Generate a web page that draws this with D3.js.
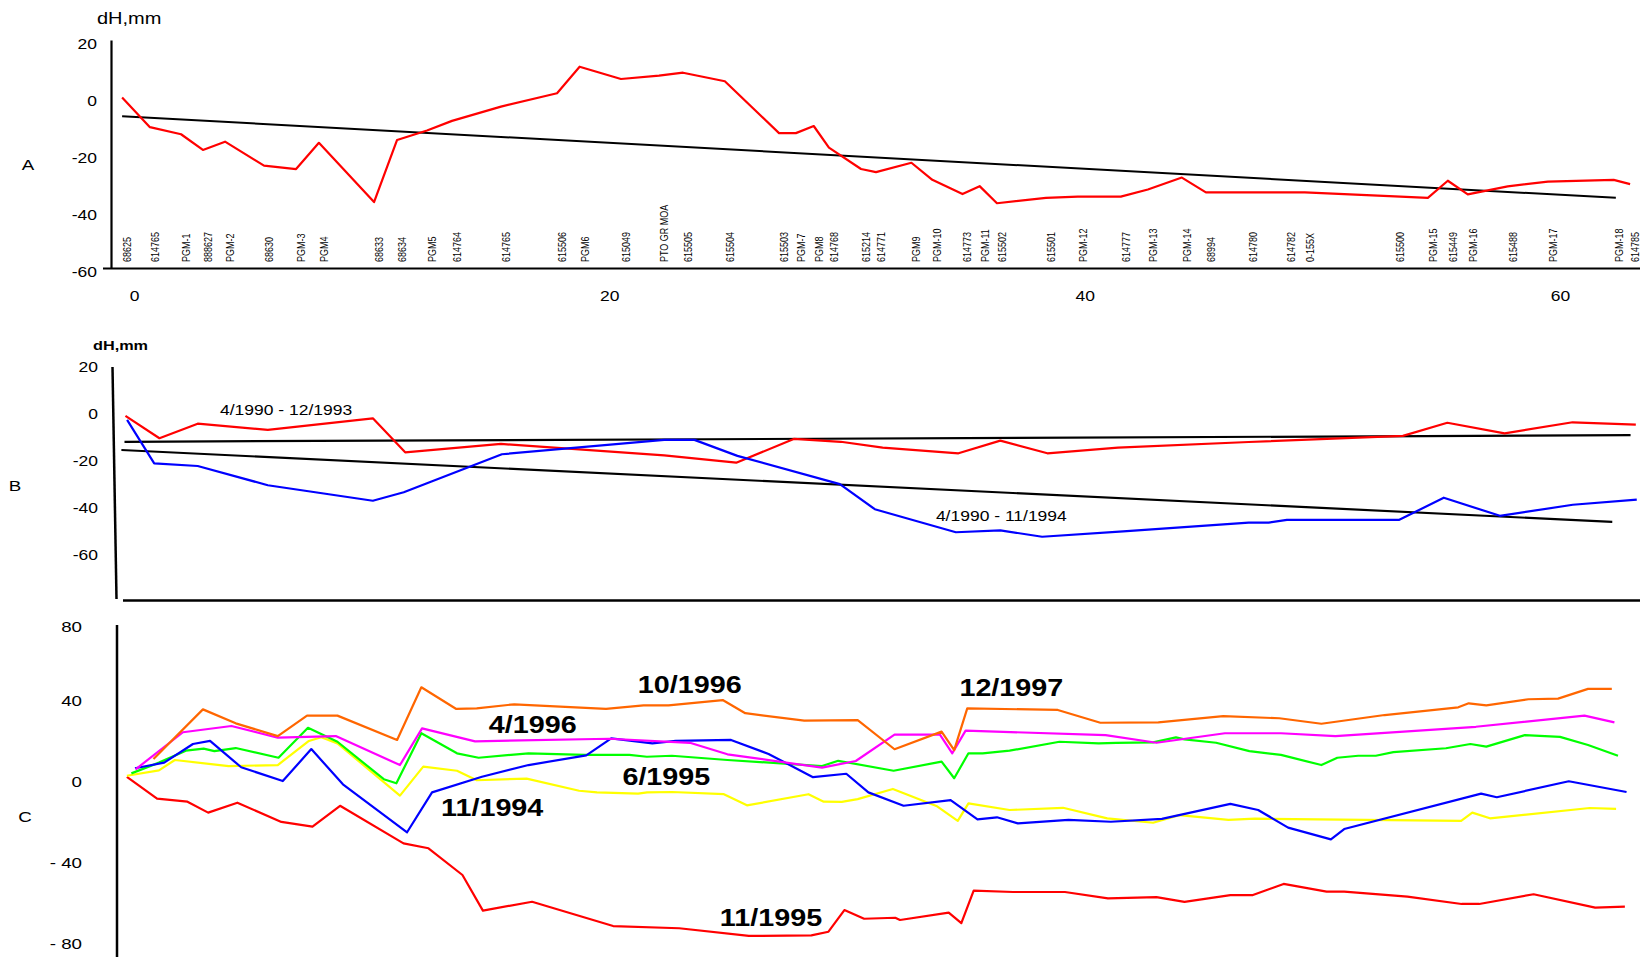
<!DOCTYPE html>
<html>
<head>
<meta charset="utf-8">
<script src="https://cdn.jsdelivr.net/npm/d3@7"></script>
<style>
  html, body { margin: 0; padding: 0; background: #fff; }
  svg { display: block; }
</style>
</head>
<body>
<svg id="chart" width="1640" height="957"></svg>
<script>
// ---------- Stations along the levelling line (A) ----------
const stationNames = ["68625","614765","PGM-1","888627","PGM-2","68630","PGM-3","PGM4","68633","68634",
  "PGM5","614764","614765","615506","PGM6","615049","PTO GR MOA","615505","615504","615503",
  "PGM-7","PGM8","614768","615214","614771","PGM9","PGM-10","614773","PGM-11","615502",
  "615501","PGM-12","614777","PGM-13","PGM-14","68994","614780","614782","0-155X","615500",
  "PGM-15","615449","PGM-16","615488","PGM-17","PGM-18","614785"];
const stationKm = [-0.50,0.67,1.98,2.90,3.83,5.47,6.82,7.78,10.10,11.07,
  12.33,13.38,15.44,17.80,18.75,20.49,22.09,23.10,24.86,27.14,
  27.85,28.60,29.24,30.59,31.22,32.71,33.59,34.86,35.58,36.31,
  38.37,39.71,41.52,42.66,44.09,45.10,46.87,48.46,49.26,53.05,
  54.44,55.28,56.12,57.80,59.49,62.26,62.95];
const dhA = [0,-10.4,-12.9,-18.4,-15.5,-23.9,-25.1,-15.9,-36.7,-14.9,
  -11.6,-8.2,-3.2,1.5,10.8,6.5,7.7,8.7,5.7,-12.5,
  -12.5,-10,-17.6,-25.1,-26.2,-22.9,-28.9,-33.9,-31.1,-37.1,
  -35.2,-34.8,-34.8,-32.3,-28.1,-33.3,-33.3,-33.3,-33.3,-34.7,
  -35.2,-29.2,-34,-31.2,-29.5,-28.9,-30.4];
const trendA = [[-0.50,-6.6],[62.35,-35.2]];

// ---------- Panel B: two epochs, [km, dH] ----------
const dhB_1990_1993 = [[-0.36,-2.1],[1.07,-11.6],[2.68,-5.4],[5.63,-8.0],[10.05,-3.1],[11.41,-17.6],
  [15.44,-14.0],[22.31,-18.9],[25.34,-22.0],[27.76,-11.9],[29.74,-13.1],[31.50,-15.6],[34.69,-18.0],
  [36.45,-12.6],[38.43,-18.0],[41.40,-15.6],[46.90,-13.2],[53.39,-10.6],[55.26,-5.0],[57.67,-9.5],
  [60.53,-4.8],[63.19,-5.8]];
const dhB_1990_1994 = [[-0.29,-3.8],[0.85,-22.3],[2.68,-23.4],[5.63,-31.6],[10.05,-38.2],[11.35,-34.6],
  [15.48,-18.4],[22.31,-12.3],[23.58,-12.3],[25.39,-19.1],[29.70,-31.1],[31.17,-41.8],[34.58,-51.6],
  [36.45,-50.8],[38.21,-53.5],[41.62,-51.2],[46.90,-47.5],[47.74,-47.5],[48.51,-46.3],[53.24,-46.3],
  [55.11,-36.9],[57.47,-44.6],[60.54,-39.9],[63.23,-37.7]];
const trendB_1990_1993 = [[-0.40,-13.1],[62.97,-10.3]];
const trendB_1990_1994 = [[-0.53,-16.6],[62.20,-47.2]];

// ---------- Panel C: six epochs, [km, dH] ----------
const dhC_red = [[-0.30,0.1],[0.97,-10.7],[2.25,-12.2],[3.12,-17.6],[4.35,-12.7],[6.20,-22.2],[7.51,-24.5],
  [8.67,-14.2],[11.34,-32.8],[12.39,-35.2],[13.82,-48.4],[14.68,-66],[16.75,-61.6],[20.16,-73.6],
  [22.94,-74.7],[25.87,-78.5],[28.50,-78.2],[29.22,-76.4],[29.89,-65.7],[30.72,-70],[32.03,-69.5],
  [32.23,-70.6],[34.28,-67],[34.81,-72.2],[35.33,-56.1],[36.99,-56.8],[39.17,-56.8],[40.98,-59.9],
  [43.02,-59.3],[44.20,-61.7],[46.13,-58.3],[47.08,-58.3],[48.37,-52.8],[50.18,-56.6],[50.92,-56.6],
  [53.58,-59.1],[55.86,-62.7],[56.60,-62.7],[58.89,-57.9],[61.48,-64.5],[62.73,-64]];
const dhC_orange = [[0.82,8.9],[2.90,33.4],[4.28,26.5],[6.05,20.2],[7.28,30.3],[8.56,30.3],[11.07,18.3],
  [12.09,44.3],[13.56,33.6],[14.42,33.9],[16.00,35.9],[19.86,33.6],[21.44,35.4],[22.49,35.4],[24.77,38],
  [25.72,31.5],[28.20,27.8],[30.45,28.1],[32.00,13.7],[33.98,22.4],[34.51,13.3],[35.06,33.9],[38.87,33.1],
  [40.66,26.8],[43.10,27],[45.83,30.1],[48.19,29],[49.96,26.3],[52.62,30.6],[55.72,34.4],[56.16,36.4],
  [56.90,35.4],[58.67,38.4],[59.92,38.7],[61.18,43.5],[62.18,43.5]];
const dhC_magenta = [[0.07,3.8],[2.06,22.1],[4.10,25.2],[6.05,19.4],[8.49,20.2],[11.19,5.9],[12.12,24],
  [14.35,17.6],[20.01,18.9],[23.39,16.9],[24.97,11.2],[28.95,4.6],[30.37,7.9],[32.00,20.9],[33.91,20.9],
  [34.43,11.7],[34.99,22.9],[40.88,20.7],[43.02,16.9],[45.90,21.6],[48.26,21.6],[50.55,20.2],[56.46,24.8],
  [61.03,30.3],[62.29,27]];
const dhC_green = [[-0.11,1.8],[1.05,7.1],[2.18,13],[2.93,14],[3.38,12.8],[4.28,14.3],[6.08,9.5],[7.32,24.3],
  [8.56,17.4],[10.51,-1.1],[11.04,-3.1],[12.09,21.6],[13.59,11.7],[14.50,9.5],[16.60,11.7],[18.96,10.9],
  [20.84,10.9],[21.58,10],[22.63,10.5],[24.97,8.4],[28.95,5.4],[29.63,8],[31.96,3.1],[33.98,7.6],
  [34.51,-0.6],[35.11,11.7],[35.71,11.7],[36.84,13],[38.94,17.4],[40.59,16.6],[41.33,16.9],[42.88,17.1],
  [43.84,19.6],[44.20,18.6],[45.53,16.9],[46.93,12.8],[48.26,10.9],[49.96,5.9],[50.63,9.5],[51.51,10.5],
  [52.25,10.5],[52.99,12.3],[55.20,14.2],[56.23,16.3],[56.90,15],[58.52,20.7],[60.00,19.8],[61.18,15.8],
  [62.44,10.5]];
const dhC_yellow = [[-0.30,0.6],[1.05,3.3],[1.72,8.4],[3.98,5.4],[6.05,5.9],[7.36,17.8],[7.88,19.6],
  [8.56,16.6],[11.19,-9.2],[12.17,5.1],[13.59,3.1],[14.42,-1.6],[16.52,-0.8],[18.73,-6.8],[19.48,-7.6],
  [21.21,-8.2],[21.59,-7.6],[22.64,-7.4],[24.82,-8.5],[25.79,-14],[28.38,-8.5],[29.02,-12.2],[29.78,-12.3],
  [30.45,-10.9],[31.93,-5.9],[33.76,-14.3],[34.66,-21.7],[35.11,-13],[36.84,-16.3],[39.09,-15.2],
  [40.95,-20.4],[42.88,-22.6],[43.98,-18.8],[46.05,-21.2],[47.16,-20.6],[55.84,-21.7],[56.31,-17.6],
  [57.05,-20.4],[61.25,-15.3],[62.36,-15.7]];
const dhC_blue = [[0.04,4.3],[1.27,7.1],[2.48,16.3],[3.20,17.8],[4.51,4.8],[6.26,-2],[7.46,13.8],[8.79,-3.6],
  [11.49,-27.3],[12.54,-7.6],[14.64,0.1],[16.60,5.9],[19.03,10.7],[20.08,19.1],[21.81,16.6],[22.79,17.8],
  [25.12,18.3],[26.70,11.4],[28.57,-0.1],[29.97,1.6],[30.90,-7.6],[32.38,-14.2],[34.36,-11.4],
  [35.49,-20.9],[36.31,-19.9],[37.19,-22.9],[39.32,-21.2],[41.10,-22.1],[43.25,-20.7],[46.13,-13.3],
  [47.30,-16.3],[48.56,-25],[50.36,-30.8],[50.92,-25.7],[56.68,-8.2],[57.34,-10],[60.37,-2.1],[62.80,-7.4]];

// ---------- Tick values and epoch captions ----------
const xTicksA = [0, 20, 40, 60];
const yTicksA = [20, 0, -20, -40, -60];
const yTicksB = [20, 0, -20, -40, -60];
const yTicksC = [80, 40, 0, -40, -80];
const captionsB = [
  { text: "4/1990 - 12/1993", km: 3.62, dh: 0.4 },
  { text: "4/1990 - 11/1994", km: 33.74, dh: -44.9 }
];
const captionsC = [
  { text: "10/1996", km: 21.20, dh: 45.4 },
  { text: "12/1997", km: 34.73, dh: 43.8 },
  { text: "4/1996",  km: 14.93, dh: 25.7 },
  { text: "6/1995",  km: 20.55, dh: 0.0 },
  { text: "11/1994", km: 12.92, dh: -15.5 },
  { text: "11/1995", km: 24.65, dh: -69.6 }
];

// ---------- Drawing ----------
const FONT = "Arial, 'Liberation Sans', Helvetica, sans-serif";
const SX = 1.25; // the figure's lettering is drawn horizontally widened

const svg = d3.select("#chart");
svg.append("rect").attr("width", 1640).attr("height", 957).attr("fill", "#fff");

const x  = d3.scaleLinear().domain([0, 60]).range([134, 1560]);
const yA = d3.scaleLinear().domain([-60, 20]).range([268.5, 40.5]);
const yB = d3.scaleLinear().domain([-80, 20]).range([599, 364]);
const yC = d3.scaleLinear().domain([-80, 80]).range([939, 615]);

const plain = d => String(d); // hyphen-minus, as lettered on the figure

function drawLine(g, pts, y, color, width) {
  const line = d3.line().x(d => x(d[0])).y(d => y(d[1]));
  g.append("path").datum(pts).attr("d", line)
    .attr("fill", "none").attr("stroke", color).attr("stroke-width", width)
    .attr("stroke-linejoin", "round").attr("stroke-linecap", "butt");
}

function textAt(g, px, py, str, size, weight, anchor) {
  return g.append("text")
    .attr("transform", `translate(${px},${py}) scale(${SX},1)`)
    .attr("text-anchor", anchor || "start").attr("dy", "0.35em")
    .attr("font-family", FONT).attr("font-size", size)
    .attr("font-weight", weight || "normal").attr("fill", "#000").text(str);
}

function yTickLabels(g, scale, ticks, fmt, rightX, off, size, minY) {
  const ax = d3.axisLeft(scale).tickValues(ticks).tickSize(0).tickFormat(fmt);
  const ag = g.append("g").attr("transform", `translate(${rightX},0)`).call(ax);
  ag.select(".domain").remove();
  ag.attr("font-family", FONT).attr("font-size", size);
  ag.selectAll(".tick text")
    .attr("x", 0).attr("dy", "0.35em").attr("fill", "#000")
    .attr("transform", d => `translate(0,${Math.max(scale(d) + off, minY) - scale(d)}) scale(${SX},1)`);
}

function hline(g, x1, x2, yy, w) {
  g.append("line").attr("x1", x1).attr("x2", x2).attr("y1", yy).attr("y2", yy)
    .attr("stroke", "#000").attr("stroke-width", w);
}
function vline(g, x1, y1, x2, y2, w) {
  g.append("line").attr("x1", x1).attr("x2", x2).attr("y1", y1).attr("y2", y2)
    .attr("stroke", "#000").attr("stroke-width", w);
}

// ===== Panel A =====
const gA = svg.append("g");
vline(gA, 111.5, yA(20), 111.5, yA(-60), 2.2);
hline(gA, 103, 1640, yA(-60), 2.2);
yTickLabels(gA, yA, yTicksA, plain, 97, 3.5, 14, 0);
textAt(gA, 97, 18, "dH,mm", 16);
textAt(gA, 28, 165, "A", 15, "normal", "middle");

const axX = d3.axisBottom(x).tickValues(xTicksA).tickSize(0).tickFormat(plain);
const gx = gA.append("g").attr("transform", "translate(0,296)").call(axX);
gx.select(".domain").remove();
gx.attr("font-family", FONT).attr("font-size", 14);
gx.selectAll(".tick text").attr("x", 0).attr("y", 0).attr("dy", "0.35em").attr("fill", "#000")
  .attr("transform", `scale(${SX},1)`);

// station names, written upward from the base line
gA.append("g").selectAll("text").data(stationNames).join("text")
  .attr("transform", (d, i) => `translate(${x(stationKm[i]) + 5},262) scale(${SX},1) rotate(-90)`)
  .attr("text-anchor", "start").attr("dy", "0.35em")
  .attr("font-family", FONT).attr("font-size", 9).attr("fill", "#000")
  .text(d => d);

drawLine(gA, trendA, yA, "#000", 2);
drawLine(gA, stationKm.map((k, i) => [k, dhA[i]]), yA, "#ff0000", 2.2);

// ===== Panel B =====
const gB = svg.append("g");
vline(gB, 112.5, yB(20) + 3, 116.5, yB(-80), 2.5);
hline(gB, 123, 1640, yB(-80) + 1.5, 2.5);
yTickLabels(gB, yB, yTicksB, plain, 98, 3, 14, 0);
textAt(gB, 93, 345, "dH,mm", 13, "bold");
textAt(gB, 15, 486, "B", 15, "normal", "middle");

drawLine(gB, trendB_1990_1993, yB, "#000", 2.2);
drawLine(gB, trendB_1990_1994, yB, "#000", 2.2);
drawLine(gB, dhB_1990_1993, yB, "#ff0000", 2.2);
drawLine(gB, dhB_1990_1994, yB, "#0000ff", 2.2);
captionsB.forEach(c => textAt(gB, x(c.km), yB(c.dh), c.text, 14));

// ===== Panel C =====
const gC = svg.append("g");
const axisTopC = 625;
vline(gC, 117, axisTopC, 117, 957, 2.5);
yTickLabels(gC, yC, yTicksC, d => d < 0 ? "- " + Math.abs(d) : String(d), 82, 4, 15, axisTopC + 1);
textAt(gC, 25, 817, "C", 15, "normal", "middle");

drawLine(gC, dhC_red, yC, "#ff0000", 2.2);
drawLine(gC, dhC_yellow, yC, "#ffff00", 2.2);
drawLine(gC, dhC_green, yC, "#00ff00", 2.2);
drawLine(gC, dhC_blue, yC, "#0000ff", 2.2);
drawLine(gC, dhC_magenta, yC, "#ff00ff", 2.2);
drawLine(gC, dhC_orange, yC, "#ff6600", 2.2);
captionsC.forEach(c => textAt(gC, x(c.km), yC(c.dh), c.text, 23, "bold"));
</script>
</body>
</html>
